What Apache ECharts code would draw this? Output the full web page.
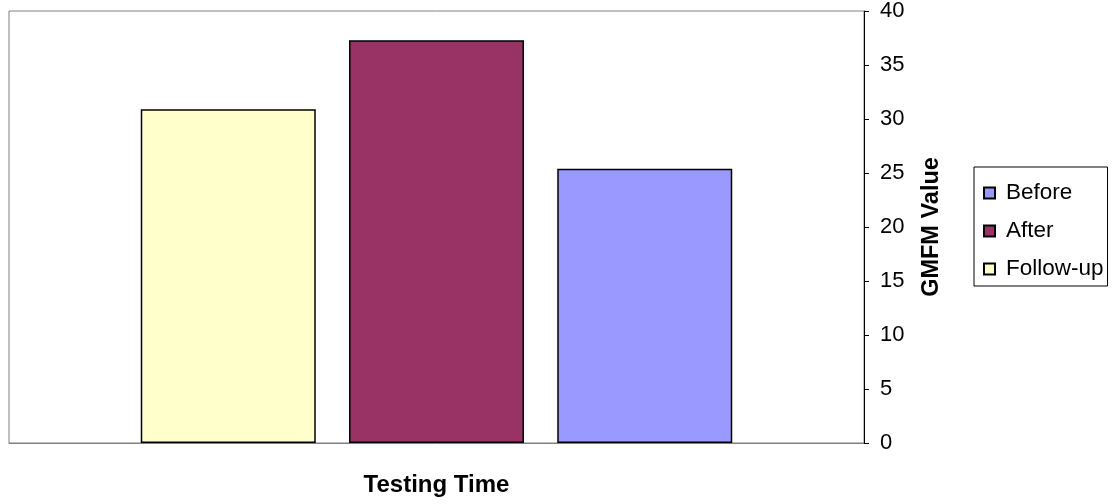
<!DOCTYPE html>
<html>
<head>
<meta charset="utf-8">
<script src="https://cdn.jsdelivr.net/npm/echarts@6/dist/echarts.min.js"></script>
<style>
html,body{margin:0;padding:0;background:#fff;}
#chart{width:1115px;height:504px;}
</style>
</head>
<body>
<div id="chart"></div>
<script>
// Data
const categories = [''];
const seriesNames = ['Follow-up', 'After', 'Before'];   // left-to-right bar order
const legendOrder = ['Before', 'After', 'Follow-up'];
const followUpValues = [30.9];
const afterValues = [37.3];
const beforeValues = [25.4];
const yTicks = { min: 0, max: 40, interval: 5 };

const colors = { 'Follow-up': '#FFFFCC', 'After': '#993366', 'Before': '#9999FF' };
const valuesByName = { 'Follow-up': followUpValues, 'After': afterValues, 'Before': beforeValues };
const FONT = '"Liberation Sans", Arial, sans-serif';

const chart = echarts.init(document.getElementById('chart'), null, { renderer: 'canvas' });
chart.setOption({
  animation: false,
  backgroundColor: '#ffffff',
  grid: {
    left: 9, right: 251, top: 11, bottom: 61,
    show: true, borderColor: '#808080', borderWidth: 1, backgroundColor: 'transparent'
  },
  legend: {
    data: legendOrder,
    orient: 'vertical',
    left: 974, top: 167,
    padding: [14, 4, 5, 9],
    itemWidth: 11, itemHeight: 11, itemGap: 14,
    borderColor: '#000', borderWidth: 1,
    icon: 'rect',
    textStyle: { fontFamily: FONT, fontSize: 22.5, color: '#000', lineHeight: 24, padding: [0, 0, 0, 6] }
  },
  xAxis: {
    type: 'category',
    data: categories,
    name: 'Testing Time',
    nameLocation: 'middle',
    nameGap: 30,
    nameTextStyle: { fontFamily: FONT, fontSize: 24, fontWeight: 'bold', color: '#000' },
    axisLine: { show: true, lineStyle: { color: '#808080', width: 1 } },
    axisTick: { show: false },
    axisLabel: { show: false },
    splitLine: { show: false }
  },
  yAxis: {
    type: 'value',
    position: 'right',
    min: yTicks.min, max: yTicks.max, interval: yTicks.interval,
    name: 'GMFM Value',
    nameLocation: 'middle',
    nameRotate: 90,
    nameGap: 56,
    nameTextStyle: { fontFamily: FONT, fontSize: 23.5, fontWeight: 'bold', color: '#000' },
    axisLine: { show: true, lineStyle: { color: '#000', width: 1 } },
    axisTick: { show: true, inside: false, length: 5, lineStyle: { color: '#000' } },
    axisLabel: { margin: 16, fontFamily: FONT, fontSize: 22, color: '#000' },
    splitLine: { show: false }
  },
  series: seriesNames.map(name => ({
    name: name,
    type: 'bar',
    data: valuesByName[name],
    barWidth: 175,
    barGap: '19%',
    itemStyle: { color: colors[name], borderColor: '#000', borderWidth: 1.5 }
  }))
});
</script>
</body>
</html>
